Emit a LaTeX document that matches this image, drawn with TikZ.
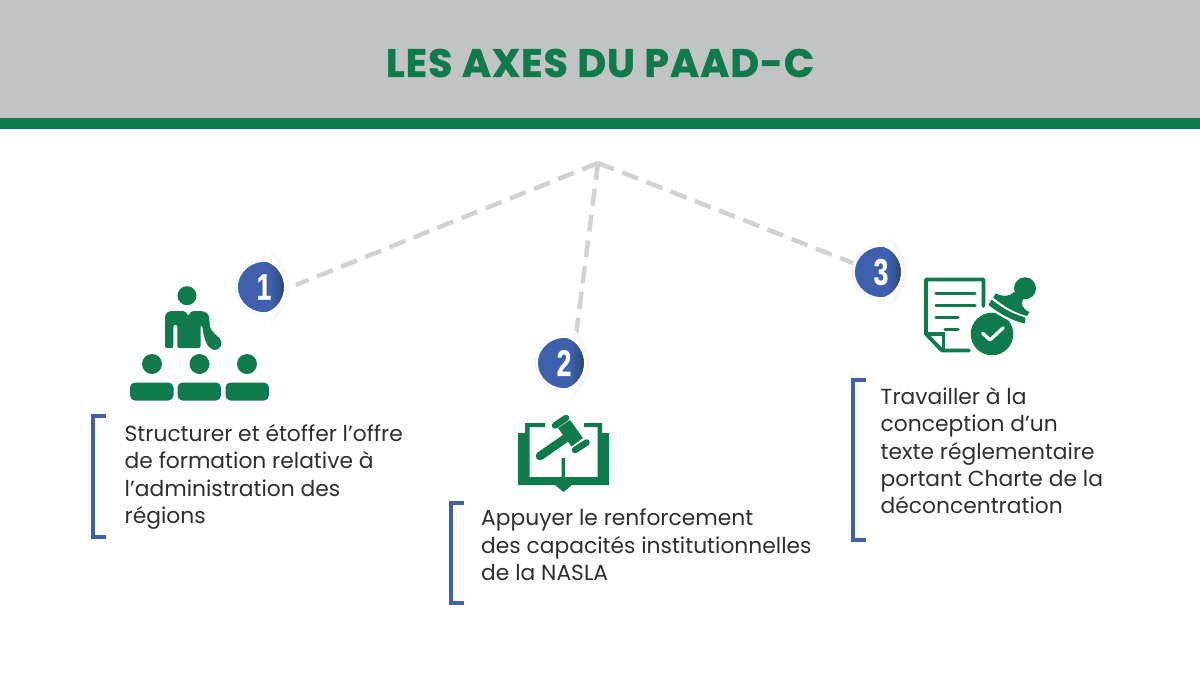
\documentclass[tikz,border=0pt]{standalone}
\usepackage{fontspec}
\setmainfont{Poppins}
\newfontfamily\titlefont[LetterSpace=2.6,FakeBold=1.2]{Poppins Bold}
\newfontfamily\numfont[FakeBold=0.6]{Liberation Sans Bold}
\usetikzlibrary{calc}
\definecolor{paadgreen}{HTML}{0F7A4B}
\definecolor{headgray}{HTML}{C2C4C3}
\definecolor{dashgray}{HTML}{D2D2D2}
\definecolor{badgeblue}{HTML}{3F60AC}
\definecolor{badgedark}{HTML}{2A4278}
\definecolor{txt}{HTML}{2F2F2F}
\pgfdeclarehorizontalshading{badgeshade}{100bp}{color(0bp)=(badgeblue); color(60bp)=(badgeblue); color(75bp)=(badgedark); color(100bp)=(badgedark)}
\tikzset{
  bodytext/.style={anchor=north west,align=left,inner sep=0pt,text=txt,font=\fontsize{21.8}{27.4}\selectfont},
  dashline/.style={draw=dashgray,line width=4.5pt,dash pattern=on 17pt off 9pt},
  bracketline/.style={draw=badgeblue,line width=4pt,line cap=butt},
  ico/.style={fill=paadgreen,draw=none},
  icoline/.style={draw=paadgreen,line cap=round,line join=round},
  numtext/.style={text=white,inner sep=0pt,font=\fontsize{37}{37}\numfont,xscale=.72}
}
\newcommand{\badge}[4]{%
  \begin{scope}[shift={(#2,#3)}]
    \fill[black!3] (8,-38) .. controls (36,-15) and (36,15) .. (8,38) .. controls (26,15) and (26,-15) .. (8,-38);
    \fill[black!7] (6,-27.5) .. controls (-8,-29) and (-26,-18) .. (-26,0) .. controls (-26,18) and (-8,29) .. (6,27.5) -- cycle;
    \path[shading=badgeshade,draw=white,line width=1.8pt] (6,-26) .. controls (-8,-27.5) and (-24,-17) .. (-24,0) .. controls (-24,17) and (-8,27.5) .. (6,26) .. controls (18,22) and (24,10) .. (24,0) .. controls (24,-10) and (18,-22) .. (6,-26);
    \node[numtext] (#1) at (3,0) {#4};
  \end{scope}}
\begin{document}
\begin{tikzpicture}[x=1pt,y=-1pt]
\useasboundingbox (0,0) rectangle (1200,675);
\fill[white] (0,0) rectangle (1200,675);
\fill[headgray] (0,0) rectangle (1200,118);
\fill[paadgreen] (0,118) rectangle (1200,129);
\node[text=paadgreen,inner sep=0pt,font=\fontsize{39.5}{39.5}\titlefont] (title) at (600,63) {LES AXES DU PAAD-C};

% connectors
\coordinate (apex) at (598,163);
\coordinate (e1) at (296,285);
\coordinate (e2) at (576,335);
\coordinate (e3) at (853,263);
\draw[dashline] (apex) -- (e1);
\draw[dashline] (apex) -- (e2);
\draw[dashline] (apex) -- (e3);

\badge{n1}{261}{287}{1}
\badge{n2}{561}{363}{2}
\badge{n3}{878}{272}{3}

% icon 1
\fill[ico] (187,295.7) circle (9.5);
\fill[ico] (165,346) -- (165,318.3) .. controls (165,313) and (168,311) .. (172.7,311) -- (183.3,311) .. controls (186,311) and (187,314) .. (188.3,315.7) .. controls (190,313) and (191,311) .. (193.3,311) -- (200,311) .. controls (206,311) and (209.3,314) .. (209.3,319) -- (210,327) .. controls (212,332) and (216,335) .. (219.5,338) .. controls (224,343) and (220,351) .. (214,350) .. controls (208,349) and (204,340) .. (203,330) .. controls (202.8,326) and (200.5,324) .. (200.5,327) -- (200.5,346) .. controls (200.5,348) and (199,348) .. (198,348) -- (179,348) .. controls (178,348) and (177.3,347.5) .. (177.3,346) -- (177.3,327) .. controls (177.3,324) and (173.3,324) .. (173.3,327) -- (173.3,346) .. controls (173.3,348) and (172,348) .. (171,348) -- (167,348) .. controls (166,348) and (165,347.5) .. (165,346) -- cycle;
\foreach \x in {152,199.5,247}{\fill[ico] (\x,364) circle (10);}
\foreach \x in {130,177.5,225.5}{\fill[ico,rounded corners=5pt] (\x,400.5) -- (\x,382.5) -- ({\x+43.5},382.5) -- ({\x+43.5},400.5) -- cycle;}

% icon 2
\fill[ico] (518,433) -- (525,433) -- (525,423) -- (545,423) -- (545,427) -- (529.5,427) -- (529.5,477) -- (561.5,477) -- (561.5,458) -- (565,458) -- (565,477) -- (597.5,477) -- (597.5,427) -- (584,427) -- (584,423) -- (602,423) -- (602,433) -- (609,433) -- (609,485) -- (572,485) -- (563.5,492) -- (555,485) -- (518,485) -- cycle;
\draw[icoline,line width=8.5pt] (540,456) -- (566,438);
\fill[ico] (558,428) -- (570,420) -- (583,438) -- (571.5,446.5) -- cycle;
\draw[icoline,line width=6.5pt] (555,425.5) -- (566,418);
\draw[icoline,line width=6.5pt] (575,450) -- (586.5,442.5);

% icon 3
\draw[icoline,line width=3.8pt] (983.5,306) -- (983.5,279.5) -- (926,279.5) -- (926,334) -- (942,350.5) -- (969,350.5);
\draw[icoline,line width=3.2pt,line join=miter] (926,334) -- (943.5,334) -- (943.5,350);
\foreach \a/\b/\y in {936/975/293.3,936/975/305.3,936/958/317.3,945/958/329.3}{\draw[icoline,line width=3.2pt] (\a,\y) -- (\b,\y);}
\fill[ico] (992,334) circle (21.3);
\draw[draw=white,line width=3.3pt,line cap=round,line join=round] (982.7,333.3) -- (990,340) -- (1003.3,327.7);
% stamp: white halo, lower band, upper band with neck and head
\path[fill=white,draw=white,line width=4.5pt,line join=round] (991.5,299.5) .. controls (1002,308) and (1013,314) .. (1025.5,317.5) -- (1025,323.5) .. controls (1011,320.5) and (998,312.5) .. (988.5,305) -- cycle;
\fill[ico,rounded corners=.8pt] (991.5,299.5) .. controls (1002,308) and (1013,314) .. (1025.5,317.5) -- (1025,323.5) .. controls (1011,320.5) and (998,312.5) .. (988.5,305) -- cycle;
\fill[ico] (995.7,293.3) .. controls (1003,297) and (1009,297) .. (1014,292) -- (1024,298) .. controls (1020,303) and (1022,309) .. (1029.5,312) -- (1027,316) .. controls (1014,312.5) and (1004,306.5) .. (993.2,297.5) -- cycle;
\fill[ico] (1025,288.3) circle (11);

% brackets
\draw[bracketline] (106,416) -- (92.5,416) -- (92.5,537) -- (106,537);
\draw[bracketline] (464,503) -- (450.5,503) -- (450.5,603) -- (464,603);
\draw[bracketline] (866,379.5) -- (852.5,379.5) -- (852.5,540) -- (866,540);

% texts
\node[bodytext] (t1) at (124.5,424) {Structurer et étoffer l’offre\\de formation relative à\\l’administration des\\régions};
\node[bodytext] (t2) at (481,509) {Appuyer le renforcement\\des capacités institutionnelles\\de la NASLA};
\node[bodytext] (t3) at (880.5,387) {Travailler à la\\conception d’un\\texte réglementaire\\portant Charte de la\\déconcentration};
\end{tikzpicture}
\end{document}
